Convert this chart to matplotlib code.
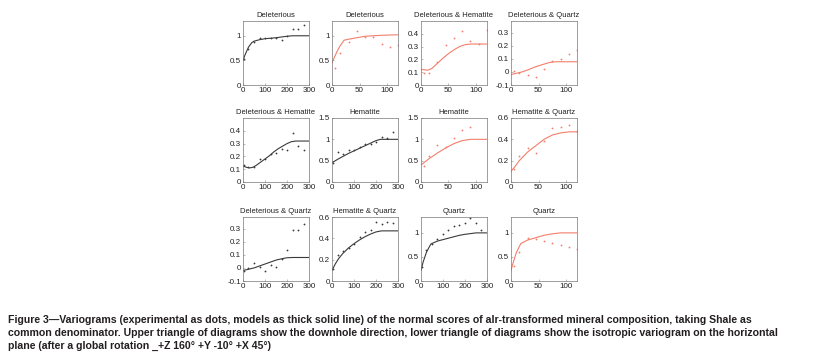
import matplotlib
matplotlib.use("Agg")
import matplotlib.pyplot as plt

plt.rcParams['font.family'] = ['Liberation Sans', 'DejaVu Sans']

RED = '#f37e6b'
BLK = '#3a3a3a'

lag_h = [5, 25, 50, 75, 100, 125, 150, 175, 200, 225, 250, 275]   # horizontal lags
lag_d = [5, 15, 30, 45, 60, 75, 90, 105, 120]                      # downhole lags

# experimental points
del_h = [0.53, 0.73, 0.88, 0.95, 0.95, 0.96, 0.95, 0.92, 1.0, 1.13, 1.14, 1.22]
del_d = [0.35, 0.65, 0.88, 1.1, 0.97, 0.97, 0.84, 0.78, 0.82]
dh_h = [0.13, 0.12, 0.12, 0.18, 0.18, 0.22, 0.23, 0.26, 0.25, 0.38, 0.28, 0.25]
dh_d = [0.09, 0.09, 0.18, 0.31, 0.37, 0.42, 0.34, 0.32, 0.43]
dq_h = [-0.02, 0.0, 0.04, 0.01, -0.02, 0.02, 0.01, 0.07, 0.14, 0.29, 0.29, 0.34]
dq_d = [0.01, -0.01, -0.02, -0.04, 0.02, 0.08, 0.10, 0.14, 0.17]
hem_h = [0.45, 0.7, 0.65, 0.75, 0.75, 0.82, 0.88, 0.9, 0.93, 1.05, 1.02, 1.18]
hem_d = [0.38, 0.6, 0.86, 0.81, 1.04, 1.22, 1.3]
hq_h = [0.11, 0.24, 0.28, 0.31, 0.35, 0.41, 0.46, 0.48, 0.55, 0.53, 0.55, 0.54]
hq_d = [0.12, 0.24, 0.32, 0.27, 0.38, 0.51, 0.52, 0.53, 0.48]
qz_h = [0.3, 0.64, 0.77, 0.87, 0.97, 1.05, 1.15, 1.17, 1.2, 1.3, 1.2, 1.05]
qz_d = [0.32, 0.6, 0.9, 0.87, 0.83, 0.8, 0.75, 0.7, 0.66]

# fitted models
del_mh_x = [0, 10, 25, 40, 50, 75, 100, 150, 200, 225, 300]
del_mh_y = [0.5, 0.62, 0.77, 0.86, 0.89, 0.92, 0.94, 0.96, 0.99, 1.0, 1.0]
del_md_x = [0, 5, 10, 15, 22, 30, 45, 60, 75, 90, 120]
del_md_y = [0.45, 0.58, 0.7, 0.8, 0.91, 0.93, 0.96, 0.99, 1.0, 1.01, 1.02]
dh_mh_x = [0, 15, 30, 45, 60, 80, 100, 120, 140, 160, 180, 200, 220, 240, 300]
dh_mh_y = [0.125, 0.115, 0.11, 0.115, 0.13, 0.155, 0.18, 0.205, 0.235, 0.26, 0.28, 0.3, 0.315, 0.32, 0.32]
dh_md_x = [0, 5, 12, 20, 30, 40, 50, 60, 70, 80, 90, 120]
dh_md_y = [0.12, 0.12, 0.115, 0.13, 0.17, 0.21, 0.245, 0.275, 0.3, 0.315, 0.32, 0.32]
dq_mh_x = [0, 25, 50, 75, 100, 125, 150, 175, 200, 225, 300]
dq_mh_y = [-0.02, -0.01, 0.0, 0.015, 0.03, 0.045, 0.06, 0.07, 0.078, 0.08, 0.08]
dq_md_x = [0, 10, 20, 30, 45, 60, 70, 80, 120]
dq_md_y = [-0.02, -0.01, 0.0, 0.015, 0.04, 0.06, 0.072, 0.078, 0.078]
hem_mh_x = [0, 25, 50, 75, 100, 125, 150, 175, 200, 220, 300]
hem_mh_y = [0.45, 0.53, 0.6, 0.67, 0.73, 0.79, 0.85, 0.91, 0.97, 1.0, 1.0]
hem_md_x = [0, 15, 30, 45, 60, 75, 90, 120]
hem_md_y = [0.4, 0.55, 0.68, 0.8, 0.9, 0.97, 1.0, 1.0]
hq_mh_x = [0, 15, 30, 50, 75, 100, 125, 150, 175, 200, 225, 300]
hq_mh_y = [0.1, 0.16, 0.21, 0.26, 0.31, 0.35, 0.385, 0.415, 0.44, 0.46, 0.47, 0.47]
hq_md_x = [0, 8, 15, 30, 45, 60, 75, 90, 105, 120]
hq_md_y = [0.1, 0.15, 0.2, 0.28, 0.34, 0.4, 0.44, 0.46, 0.47, 0.47]
qz_mh_x = [0, 10, 25, 45, 75, 100, 125, 150, 175, 200, 225, 250, 300]
qz_mh_y = [0.22, 0.4, 0.6, 0.77, 0.83, 0.86, 0.89, 0.92, 0.95, 0.97, 0.985, 1.0, 1.0]
qz_md_x = [0, 5, 10, 18, 30, 45, 60, 75, 90, 120]
qz_md_y = [0.22, 0.42, 0.6, 0.78, 0.85, 0.9, 0.95, 0.98, 1.0, 1.0]

titles = [["Deleterious", "Deleterious", "Deleterious & Hematite", "Deleterious & Quartz"],
          ["Deleterious & Hematite", "Hematite", "Hematite", "Hematite & Quartz"],
          ["Deleterious & Quartz", "Hematite & Quartz", "Quartz", "Quartz"]]

panels = [
    [(lag_h, del_h, del_mh_x, del_mh_y, BLK, (0, 1.3), [0, 0.5, 1]),
     (lag_d, del_d, del_md_x, del_md_y, RED, (0, 1.3), [0, 0.5, 1]),
     (lag_d, dh_d, dh_md_x, dh_md_y, RED, (0, 0.5), [0, 0.1, 0.2, 0.3, 0.4]),
     (lag_d, dq_d, dq_md_x, dq_md_y, RED, (-0.1, 0.39), [-0.1, 0, 0.1, 0.2, 0.3])],
    [(lag_h, dh_h, dh_mh_x, dh_mh_y, BLK, (0, 0.5), [0, 0.1, 0.2, 0.3, 0.4]),
     (lag_h, hem_h, hem_mh_x, hem_mh_y, BLK, (0, 1.5), [0, 0.5, 1, 1.5]),
     (lag_d[:7], hem_d, hem_md_x, hem_md_y, RED, (0, 1.5), [0, 0.5, 1, 1.5]),
     (lag_d, hq_d, hq_md_x, hq_md_y, RED, (0, 0.6), [0, 0.2, 0.4, 0.6])],
    [(lag_h, dq_h, dq_mh_x, dq_mh_y, BLK, (-0.1, 0.39), [-0.1, 0, 0.1, 0.2, 0.3]),
     (lag_h, hq_h, hq_mh_x, hq_mh_y, BLK, (0, 0.6), [0, 0.2, 0.4, 0.6]),
     (lag_h, qz_h, qz_mh_x, qz_mh_y, BLK, (0, 1.33), [0, 0.5, 1]),
     (lag_d, qz_d, qz_md_x, qz_md_y, RED, (0, 1.33), [0, 0.5, 1])],
]

W, H = 827, 364
fig = plt.figure(figsize=(W / 100, H / 100), dpi=100)

lefts = [243, 332, 421, 511]
tops = [21, 118, 217]
aw, ah = 66, 64

for r in range(3):
    for c in range(4):
        lx, ly, mx, my, col, ylim, yt = panels[r][c]
        ax = fig.add_axes([lefts[c] / W, 1 - (tops[r] + ah) / H, aw / W, ah / H])
        ax.plot(mx, my, color=col, lw=0.8)
        ax.plot(lx, ly, 'o', color=col, ms=1.3, mew=0)
        if col == BLK:
            ax.set_xlim(0, 300)
            ax.set_xticks([0, 100, 200, 300])
        else:
            ax.set_xlim(0, 120)
            ax.set_xticks([0, 50, 100])
        ax.set_ylim(*ylim)
        ax.set_yticks(yt)
        ax.set_yticklabels([('%g' % v) for v in yt])
        ax.set_title(titles[r][c], fontsize=5.5, pad=3, color='#222222')
        ax.tick_params(direction='in', length=1.5, width=0.4, labelsize=5.8,
                       pad=1.5, colors='#888888', labelcolor='#222222')
        for s in ax.spines.values():
            s.set_linewidth(0.5)
            s.set_color('#777777')

cap = ["Figure 3\u2014Variograms (experimental as dots, models as thick solid line) of the normal scores of alr-transformed mineral composition, taking Shale as",
       "common denominator. Upper triangle of diagrams show the downhole direction, lower triangle of diagrams show the isotropic variogram on the horizontal",
       "plane (after a global rotation _+Z 160\u00b0 +Y -10\u00b0 +X 45\u00b0)"]
for i, line in enumerate(cap):
    fig.text(8 / W, 1 - (320 + 13 * i) / H, line, fontsize=7.6, fontweight='bold',
             color='#231f20', va='center', ha='left')

fig.savefig("out.png", dpi=100)
